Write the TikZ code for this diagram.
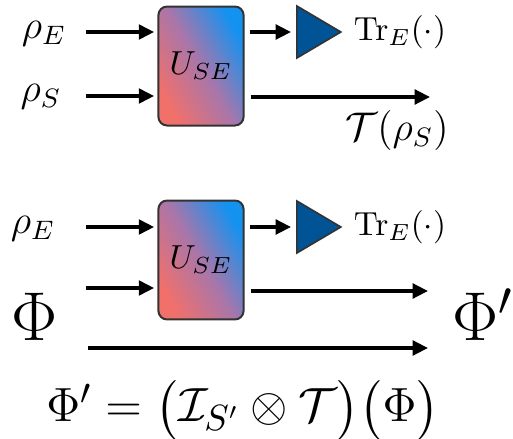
\documentclass[tikz,border=0pt]{standalone}
\usepackage{amsmath,amssymb}
\usepackage{xcolor}
\usepackage{tikz}
\usetikzlibrary{arrows.meta,positioning,shapes.geometric}

\definecolor{salmonred}{RGB}{242,112,106}
\definecolor{midpurple}{RGB}{168,118,170}
\definecolor{skyblue}{RGB}{20,146,240}
\definecolor{tracefill}{RGB}{0,84,150}

\begin{document}
\begin{tikzpicture}[
  x=0.3pt, y=-0.3pt,
  gate/.style={draw=black!80, line width=0.6pt, rounded corners=2.6pt, minimum width=24.6pt, minimum height=35.7pt, left color=salmonred, right color=skyblue, middle color=midpurple, shading angle=120},
  trace/.style={isosceles triangle, isosceles triangle stretches, draw=black!80, line width=0.5pt, fill=tracefill, minimum width=15.6pt, minimum height=13.2pt, inner sep=0pt, anchor=west},
  wire/.style={-{Triangle[length=4.6pt,width=4.4pt]}, line width=1pt},
  lab/.style={font=\large, inner sep=1pt}
]
\useasboundingbox (0,0) rectangle (513,439);

% channel T
\node[gate] (U1) at (201,66) {$U_{SE}$};
\node[trace] (tr1) at (296,32) {};
\node[anchor=west, inner sep=1pt] (TrE1) at (350,32) {$\mathrm{Tr}_E(\cdot)$};
\node[lab] (rhoE1) at (44,34) {$\rho_E$};
\node[lab] (rhoS1) at (41,97) {$\rho_S$};
\node[lab] (TrhoS) at (397,130) {$\mathcal{T}(\rho_S)$};
\coordinate (inE1) at (86,32);
\coordinate (inS1) at (86,96);
\coordinate (outS1) at (430,97);

\draw[wire, shorten >=1pt] (inE1) -- (inE1 -| U1.west);
\draw[wire, shorten >=1pt] (inS1) -- (inS1 -| U1.west);
\draw[wire, shorten <=1.5pt, shorten >=1.5pt] (U1.east |- inE1) -- (tr1.west);
\draw[wire, shorten <=1.8pt] (U1.east |- outS1) -- (outS1);

% extension I x T acting on Phi
\node[gate] (U2) at (201,260) {$U_{SE}$};
\node[trace] (tr2) at (296,227) {};
\node[anchor=west, inner sep=1pt] (TrE2) at (350,227) {$\mathrm{Tr}_E(\cdot)$};
\node[lab] (rhoE2) at (33,229) {$\rho_E$};
\node[font=\huge, inner sep=0pt] (Phi) at (35,317) {$\Phi$};
\node[font=\huge, inner sep=0pt] (Phiout) at (483,315) {$\Phi'$};
\coordinate (inE2) at (86,227);
\coordinate (inS2) at (86,288);
\coordinate (outS2) at (428,291);
\coordinate (inR) at (88,348);
\coordinate (outR) at (428,348);

\draw[wire, shorten >=1pt] (inE2) -- (inE2 -| U2.west);
\draw[wire, shorten >=1pt] (inS2) -- (inS2 -| U2.west);
\draw[wire, shorten <=1.5pt, shorten >=1.5pt] (U2.east |- inE2) -- (tr2.west);
\draw[wire, shorten <=1.8pt] (U2.east |- outS2) -- (outS2);
\draw[wire] (inR) -- (outR);

\node[font=\fontsize{15}{18}\selectfont] (law) at (243,410) {$\Phi' = \bigl(\mathcal{I}_{S'}\otimes\mathcal{T}\bigr)\bigl(\Phi\bigr)$};
\end{tikzpicture}
\end{document}
